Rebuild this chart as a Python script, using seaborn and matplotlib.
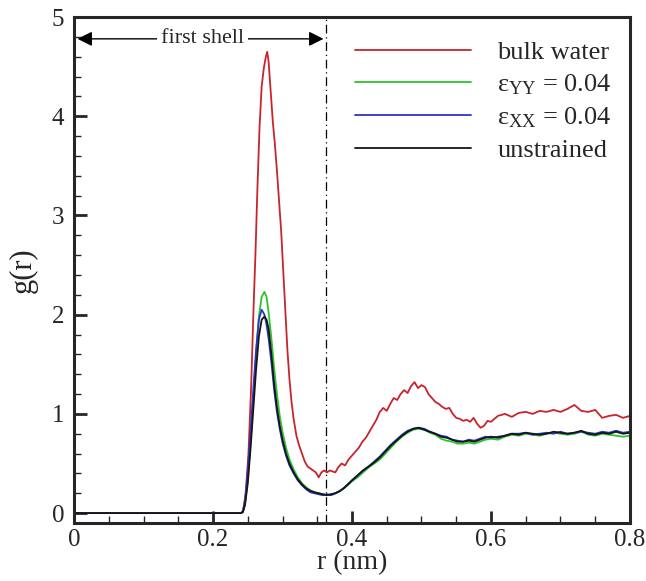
import numpy as np
import pandas as pd
import matplotlib
matplotlib.use("Agg")
import matplotlib.pyplot as plt
import seaborn as sns
from matplotlib.ticker import MultipleLocator

# ---------------- data ----------------
r_bulk = [0, 0.240, 0.243, 0.247, 0.251, 0.255, 0.258, 0.261, 0.264, 0.267, 0.270, 0.273,
          0.276, 0.278, 0.280, 0.283, 0.286, 0.289, 0.292, 0.295, 0.298, 0.301, 0.304, 0.307,
          0.310, 0.313, 0.316, 0.320, 0.324, 0.328, 0.332, 0.336, 0.340, 0.344, 0.348, 0.352,
          0.356, 0.360, 0.364, 0.368, 0.372, 0.376, 0.380, 0.385, 0.390, 0.395, 0.400, 0.405,
          0.410, 0.415, 0.420, 0.425, 0.430, 0.435, 0.440, 0.445, 0.450, 0.455, 0.460, 0.465,
          0.470, 0.475, 0.480, 0.485, 0.490, 0.495, 0.500, 0.505, 0.510, 0.515, 0.520, 0.525,
          0.530, 0.535, 0.540, 0.545, 0.550, 0.555, 0.560, 0.565, 0.570, 0.575, 0.580, 0.585,
          0.590, 0.595, 0.600, 0.610, 0.620, 0.630, 0.640, 0.650, 0.660, 0.670, 0.680, 0.690,
          0.700, 0.710, 0.720, 0.730, 0.740, 0.750, 0.760, 0.770, 0.780, 0.790, 0.800]
g_bulk = [0, 0, 0.01, 0.20, 0.60, 1.30, 2.00, 2.60, 3.30, 3.90, 4.30, 4.48,
          4.60, 4.65, 4.55, 4.25, 3.95, 3.72, 3.45, 3.15, 2.85, 2.45, 2.05, 1.65,
          1.35, 1.12, 0.95, 0.78, 0.68, 0.60, 0.52, 0.47, 0.45, 0.43, 0.41, 0.36,
          0.41, 0.43, 0.41, 0.43, 0.42, 0.41, 0.46, 0.50, 0.48, 0.54, 0.58, 0.62,
          0.66, 0.72, 0.76, 0.82, 0.88, 0.94, 1.02, 1.06, 1.03, 1.10, 1.16, 1.14,
          1.20, 1.24, 1.21, 1.28, 1.32, 1.26, 1.29, 1.27, 1.20, 1.16, 1.12, 1.10,
          1.07, 1.05, 1.06, 1.00, 0.96, 0.95, 0.93, 0.94, 0.92, 0.96, 0.90, 0.86,
          0.88, 0.93, 0.92, 0.98, 1.00, 0.97, 1.01, 1.02, 1.00, 1.03, 1.02, 1.04,
          1.02, 1.05, 1.09, 1.03, 1.02, 1.04, 0.96, 0.98, 0.99, 0.96, 0.98]

r_conf = [0, 0.24, 0.243, 0.246, 0.25, 0.254, 0.258, 0.262, 0.266, 0.270, 0.274, 0.277, 0.280,
          0.284, 0.288, 0.292, 0.296, 0.300, 0.305, 0.310, 0.316, 0.322, 0.328, 0.334, 0.340,
          0.346, 0.352, 0.358, 0.364, 0.370, 0.376, 0.382, 0.388, 0.394, 0.400, 0.408, 0.416,
          0.424, 0.432, 0.440, 0.448, 0.456, 0.464, 0.472, 0.480, 0.488, 0.496, 0.504, 0.512,
          0.520, 0.528, 0.536, 0.544, 0.552, 0.560, 0.568, 0.576, 0.584, 0.592, 0.600, 0.610,
          0.620, 0.630, 0.640, 0.650, 0.660, 0.670, 0.680, 0.690, 0.700, 0.710, 0.720, 0.730,
          0.740, 0.750, 0.760, 0.770, 0.780, 0.790, 0.800]
g_yy = [0, 0, 0.01, 0.09, 0.34, 0.72, 1.15, 1.60, 1.98, 2.18, 2.23, 2.18, 2.02,
        1.76, 1.46, 1.20, 0.98, 0.82, 0.66, 0.54, 0.44, 0.36, 0.30, 0.26, 0.23,
        0.21, 0.20, 0.19, 0.18, 0.19, 0.20, 0.22, 0.25, 0.28, 0.32, 0.36, 0.41,
        0.46, 0.50, 0.54, 0.60, 0.66, 0.72, 0.77, 0.81, 0.84, 0.85, 0.84, 0.81,
        0.79, 0.75, 0.73, 0.72, 0.70, 0.70, 0.71, 0.70, 0.72, 0.74, 0.75, 0.74,
        0.77, 0.79, 0.78, 0.80, 0.79, 0.78, 0.80, 0.81, 0.80, 0.79, 0.80, 0.82,
        0.79, 0.78, 0.80, 0.79, 0.78, 0.77, 0.78]
g_xx = [0, 0, 0.02, 0.12, 0.42, 0.82, 1.25, 1.65, 1.95, 2.05, 2.00, 1.90, 1.76,
        1.52, 1.24, 1.02, 0.85, 0.71, 0.58, 0.48, 0.40, 0.33, 0.28, 0.24, 0.21,
        0.20, 0.19, 0.18, 0.19, 0.18, 0.20, 0.22, 0.25, 0.29, 0.33, 0.38, 0.43,
        0.47, 0.52, 0.57, 0.63, 0.69, 0.74, 0.79, 0.83, 0.85, 0.86, 0.85, 0.82,
        0.80, 0.78, 0.77, 0.74, 0.73, 0.72, 0.74, 0.73, 0.75, 0.77, 0.76, 0.77,
        0.78, 0.80, 0.80, 0.81, 0.79, 0.80, 0.81, 0.80, 0.82, 0.80, 0.81, 0.82,
        0.81, 0.80, 0.82, 0.81, 0.83, 0.81, 0.82]
g_un = [0, 0, 0.01, 0.08, 0.30, 0.65, 1.05, 1.45, 1.78, 1.95, 1.98, 1.95, 1.86,
        1.60, 1.30, 1.06, 0.88, 0.74, 0.60, 0.50, 0.41, 0.34, 0.29, 0.25, 0.225,
        0.21, 0.20, 0.19, 0.18, 0.19, 0.20, 0.22, 0.25, 0.29, 0.33, 0.38, 0.43,
        0.47, 0.51, 0.56, 0.62, 0.68, 0.73, 0.78, 0.82, 0.85, 0.86, 0.84, 0.82,
        0.80, 0.77, 0.76, 0.74, 0.72, 0.72, 0.73, 0.72, 0.74, 0.76, 0.77, 0.76,
        0.78, 0.80, 0.79, 0.81, 0.80, 0.79, 0.80, 0.82, 0.81, 0.80, 0.81, 0.83,
        0.80, 0.79, 0.81, 0.80, 0.82, 0.80, 0.81]

labels = ["bulk water", "ε$_{\\mathrm{YY}}$ = 0.04",
          "ε$_{\\mathrm{XX}}$ = 0.04", "unstrained"]
colors = ["#c8242c", "#2cc42c", "#2c34c8", "#151515"]
shell_r = 0.363

# ---------------- plot ----------------
sns.set_style("ticks")
plt.rcParams["font.family"] = ["Liberation Serif", "DejaVu Serif"]
plt.rcParams["mathtext.fontset"] = "custom"
plt.rcParams["mathtext.rm"] = "Liberation Serif"
plt.rcParams["mathtext.it"] = "Liberation Serif:italic"

fig = plt.figure(figsize=(6.46, 5.81), dpi=100)
ax = fig.add_axes([0.1146, 0.0998, 0.8606, 0.8709])

series = [(r_bulk, g_bulk), (r_conf, g_yy), (r_conf, g_xx), (r_conf, g_un)]
for (rr, gg), lab, col in zip(series, labels, colors):
    df = pd.DataFrame({"r": rr, "g": gg})
    sns.lineplot(data=df, x="r", y="g", ax=ax, color=col, lw=1.3, label=lab,
                 estimator=None, sort=False)

ax.axvline(shell_r, color="black", lw=0.9, ls=(0, (7, 3, 1, 3)))

ax.set_xlim(0, 0.8)
ax.set_ylim(-0.1, 5)
ax.xaxis.set_major_locator(MultipleLocator(0.2))
ax.xaxis.set_minor_locator(MultipleLocator(0.05))
ax.yaxis.set_major_locator(MultipleLocator(1))
ax.yaxis.set_minor_locator(MultipleLocator(0.2))
ax.set_xticks([0, 0.2, 0.4, 0.6, 0.8])
ax.set_xticklabels(["0", "0.2", "0.4", "0.6", "0.8"])
ax.tick_params(which="major", direction="in", length=9, width=2, labelsize=18, pad=4)
ax.tick_params(axis="y", which="major", pad=7)
ax.tick_params(which="minor", direction="in", length=5, width=1)
for s in ax.spines.values():
    s.set_linewidth(2.2)

ax.set_xlabel("r (nm)", fontsize=20, labelpad=0)
ax.set_ylabel("g(r)", fontsize=22, labelpad=10)

# first shell annotation
ax.annotate("", xy=(0.005, 4.78), xytext=(shell_r - 0.004, 4.78),
            arrowprops=dict(arrowstyle="<|-|>", color="black", lw=1.0,
                            mutation_scale=22, shrinkA=0, shrinkB=0))
ax.text(0.185, 4.78, "first shell", ha="center", va="center", fontsize=16,
        bbox=dict(facecolor="white", edgecolor="none", pad=3))

leg = ax.legend(loc="upper right", bbox_to_anchor=(1.0, 0.99), frameon=False,
                fontsize=19, handlelength=4.4, handletextpad=1.0, labelspacing=0.32,
                borderaxespad=0.3)
for l in leg.get_lines():
    l.set_linewidth(1.3)

fig.savefig("out.png", dpi=100)
